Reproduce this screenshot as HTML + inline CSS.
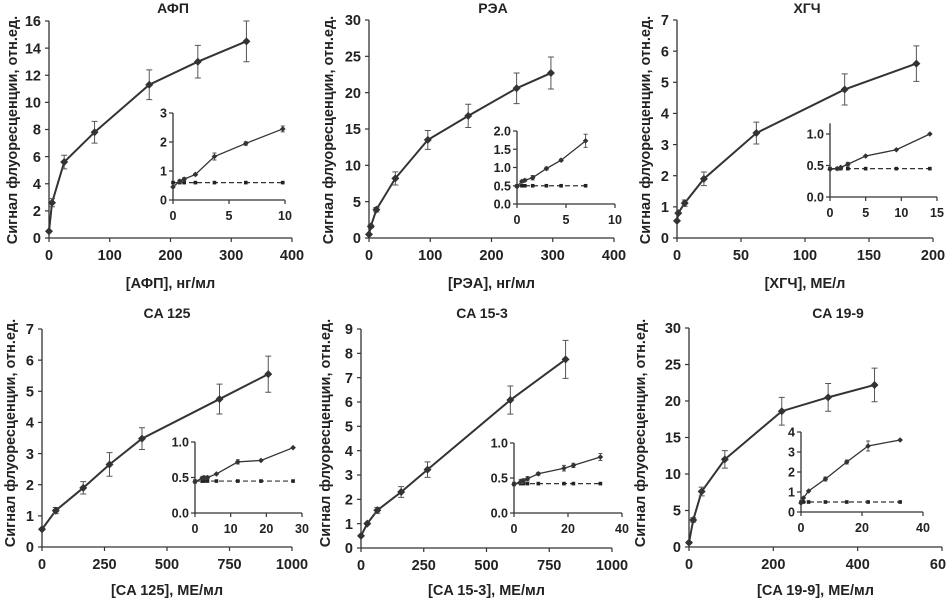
<!DOCTYPE html>
<html><head><meta charset="utf-8"><style>
html,body{margin:0;padding:0;background:#fff;}
svg{display:block;font-family:"Liberation Sans",sans-serif;font-weight:bold;}
</style></head><body>
<svg id="fig" width="946" height="599" viewBox="0 0 946 599"></svg>
<script>
// ---- data ----
const titles = ["АФП","РЭА","ХГЧ","CA 125","CA 15-3","CA 19-9"];
const xTitles = ["[АФП], нг/мл","[РЭА], нг/мл","[ХГЧ], МЕ/л","[CA 125], МЕ/мл","[CA 15-3], МЕ/мл","[CA 19-9], МЕ/мл"];
const yTitle = "Сигнал флуоресценции, отн.ед.";
const afpX = [0,5,25,75,165,245,325];
const afpY = [0.5,2.6,5.6,7.8,11.3,13.0,14.5];
const afpE = [0,0.3,0.5,0.8,1.1,1.2,1.5];
const reaX = [0,3,12,43,96,162,241,297];
const reaY = [0.5,1.6,3.9,8.2,13.5,16.8,20.6,22.7];
const reaE = [0,0.2,0.3,0.9,1.3,1.6,2.1,2.2];
const hgX = [0,1,6,21,62,131,187];
const hgY = [0.55,0.8,1.12,1.9,3.37,4.77,5.6];
const hgE = [0,0.05,0.1,0.22,0.35,0.5,0.57];
const c125X = [0,55,165,270,400,710,905];
const c125Y = [0.57,1.17,1.9,2.65,3.48,4.75,5.55];
const c125E = [0.05,0.1,0.2,0.38,0.35,0.48,0.58];
const c153X = [0,25,65,160,265,595,815];
const c153Y = [0.5,1.0,1.55,2.3,3.22,6.08,7.75];
const c153E = [0.05,0.05,0.12,0.22,0.32,0.58,0.78];
const c199X = [0,10,30,85,220,330,440];
const c199Y = [0.6,3.7,7.6,12.0,18.6,20.5,22.2];
const c199E = [0.1,0.3,0.6,1.2,1.9,1.9,2.3];
// insets
const iafpX = [0,0.6,1.0,2.0,3.7,6.5,9.8];
const iafpY = [0.45,0.65,0.72,0.88,1.5,1.95,2.45];
const iafpE = [0.03,0.05,0.05,0.04,0.12,0.06,0.1];
const iafpB = [0.6,0.6,0.6,0.6,0.6,0.6,0.6];
const ireaX = [0,0.5,0.8,1.6,3,4.5,7];
const ireaY = [0.48,0.62,0.65,0.72,0.97,1.2,1.73];
const ireaE = [0.03,0.03,0.03,0.06,0.04,0.03,0.18];
const ireaB = [0.5,0.5,0.5,0.5,0.5,0.5,0.5];
const ihgX = [0,1,1.5,2.5,5,9.3,14];
const ihgY = [0.44,0.45,0.47,0.52,0.65,0.75,1.0];
const ihgE = [0.01,0.01,0.01,0.03,0.01,0.01,0.01];
const ihgB = [0.45,0.45,0.45,0.45,0.45,0.45,0.45];
const i125X = [0,2,2.5,3.5,6,12,18.5,27.5];
const i125Y = [0.44,0.49,0.5,0.5,0.55,0.72,0.74,0.92];
const i125E = [0.02,0.02,0.02,0.02,0.01,0.03,0.01,0.01];
const i125B = [0.45,0.45,0.45,0.45,0.45,0.45,0.45,0.45];
const i153X = [0,2.5,3.5,5,9,18.5,22,32];
const i153Y = [0.41,0.45,0.46,0.49,0.56,0.64,0.68,0.8];
const i153E = [0.02,0.03,0.03,0.03,0.02,0.04,0.03,0.05];
const i153B = [0.42,0.42,0.42,0.42,0.42,0.42,0.42,0.42];
const i199X = [0,0.8,2.5,8,15,22,32.5];
const i199Y = [0.45,0.7,1.05,1.65,2.5,3.3,3.6];
const i199E = [0.05,0.05,0.05,0.1,0.1,0.25,0.05];
const i199B = [0.5,0.5,0.5,0.5,0.5,0.5,0.5];
// ticks
const mainXT = [[0,100,200,300,400],[0,100,200,300,400],[0,50,100,150,200],[0,250,500,750,1000],[0,250,500,750,1000],[0,200,400,600]];
const mainYT = [[0,2,4,6,8,10,12,14,16],[0,5,10,15,20,25,30],[0,1,2,3,4,5,6,7],[0,1,2,3,4,5,6,7],[0,1,2,3,4,5,6,7,8,9],[0,5,10,15,20,25,30]];
const insXT = [[0,5,10],[0,5,10],[0,5,10,15],[0,10,20,30],[0,20,40],[0,20,40]];
const insYT = [["0","1","2","3"],["0.0","0.5","1.0","1.5","2.0"],["0.0","0.5","1.0"],["0.0","0.5","1.0"],["0.0","0.5","1.0"],["0","1","2","3","4"]];

// ---- layout (pixel geometry) ----
const P = [
 {ax:49,ay0:238,ax1:292,ay1:21,xmax:400,ymax:16,tx:173,ty:8,yt:[12,130],xl:255,xt:283,
  in:{ax:173,ay0:200,ax1:285,ay1:113,xmax:10,ymax:3,ytop:3}},
 {ax:369,ay0:238,ax1:614,ay1:20,xmax:400,ymax:30,tx:493,ty:8,yt:[328,130],xl:255,xt:283,
  in:{ax:517,ay0:204,ax1:615,ay1:131,xmax:10,ymax:2,ytop:2}},
 {ax:677,ay0:238,ax1:933,ay1:20,xmax:200,ymax:7,tx:807,ty:8,yt:[645,130],xl:255,xt:283,
  in:{ax:830,ay0:197,ax1:937,ay1:134,xmax:15,ymax:1,ytop:1.17}},
 {ax:42,ay0:547,ax1:292,ay1:329,xmax:1000,ymax:7,tx:167,ty:313,yt:[10,433],xl:570,xt:590,
  in:{ax:195,ay0:513,ax1:302,ay1:442,xmax:30,ymax:1,ytop:1}},
 {ax:361,ay0:548,ax1:612,ay1:329,xmax:1000,ymax:9,tx:482,ty:313,yt:[325,433],xl:570,xt:590,
  in:{ax:514,ay0:513,ax1:622,ay1:443,xmax:40,ymax:1,ytop:1}},
 {ax:689,ay0:547,ax1:942,ay1:328,xmax:600,ymax:30,tx:838,ty:313,yt:[640,433],xl:570,xt:590,
  in:{ax:801,ay0:512,ax1:923,ay1:432,xmax:40,ymax:4,ytop:4}}
];
const mains = [[afpX,afpY,afpE],[reaX,reaY,reaE],[hgX,hgY,hgE],[c125X,c125Y,c125E],[c153X,c153Y,c153E],[c199X,c199Y,c199E]];
const insets = [[iafpX,iafpY,iafpE,iafpB],[ireaX,ireaY,ireaE,ireaB],[ihgX,ihgY,ihgE,ihgB],[i125X,i125Y,i125E,i125B],[i153X,i153Y,i153E,i153B],[i199X,i199Y,i199E,i199B]];

const NS="http://www.w3.org/2000/svg";
const svg=document.getElementById('fig');
function mk(tag,attrs,parent,txt){const e=document.createElementNS(NS,tag);for(const k in attrs)e.setAttribute(k,attrs[k]);if(txt!==undefined)e.textContent=txt;(parent||svg).appendChild(e);return e;}
const C="#333";

function drawAxes(g,L,xt,yt,fs,names,isInset){
  const sx=v=>L.ax+(v/L.xmax)*(L.ax1-L.ax);
  const sy=v=>L.ay0-(v/L.ymax)*(L.ay0-L.ay1);
  const topY=isInset? L.ay0-(L.ytop/L.ymax)*(L.ay0-L.ay1) : L.ay1;
  mk('line',{x1:L.ax,y1:topY,x2:L.ax,y2:L.ay0,stroke:C,'stroke-width':1.3},g);
  mk('line',{x1:L.ax,y1:L.ay0,x2:L.ax1,y2:L.ay0,stroke:C,'stroke-width':1.3},g);
  xt.forEach(v=>{const x=sx(v);
    mk('line',{x1:x,y1:L.ay0,x2:x,y2:L.ay0+4,stroke:C,'stroke-width':1.2},g);
    const t=mk('text',{x:x,y:L.ay0+(isInset?20:22),'text-anchor':'middle','font-size':fs,fill:'#222'},g,String(v));
    
    
  });
  yt.forEach((lab,i)=>{const v=parseFloat(lab);const y=sy(v);
    mk('line',{x1:L.ax-4,y1:y,x2:L.ax,y2:y,stroke:C,'stroke-width':1.2},g);
    const t=mk('text',{x:L.ax-(isInset?6:8),y:y+fs*0.36,'text-anchor':'end','font-size':fs,fill:'#222'},g,String(lab));
    
    
  });
  return [sx,sy];
}
function diamond(g,x,y,r){mk('path',{d:`M${x},${y-r}L${x+r},${y}L${x},${y+r}L${x-r},${y}Z`,fill:C},g);}

P.forEach((L,i)=>{
  const g=mk('g',{});
  
  
  const t=mk('text',{x:L.tx,y:L.ty+5,'text-anchor':'middle','font-size':14,fill:'#222'},g,titles[i]);
  
  
  const [sx,sy]=drawAxes(g,L,mainXT[i],mainYT[i].map(String),14.5,'main',false);
  const xt=mk('text',{x:(L.ax+L.ax1)/2,y:L.xt+5,'text-anchor':'middle','font-size':14.5,fill:'#222'},g,xTitles[i]);
  
  
  const yt=mk('text',{x:0,y:0,'text-anchor':'middle','font-size':14.5,fill:'#222',transform:`translate(${L.yt[0]+5},${L.yt[1]}) rotate(-90)`},g,yTitle);
  
  
  const [X,Y,E]=mains[i];
  const s=g.appendChild(document.createElementNS(NS,'g'));
  
  
  mk('polyline',{points:X.map((x,k)=>sx(x)+','+sy(Y[k])).join(' '),fill:'none',stroke:C,'stroke-width':2},s);
  X.forEach((x,k)=>{const px=sx(x);
    if(E[k]>0.05){const y1=sy(Y[k]+E[k]),y2=sy(Y[k]-E[k]);
      mk('path',{d:`M${px},${y1}V${y2}M${px-3},${y1}H${px+3}M${px-3},${y2}H${px+3}`,stroke:'#555','stroke-width':1,fill:'none'},s);}
    diamond(s,px,sy(Y[k]),4);
  });
  // inset
  const IL=L.in;
  const ig=mk('g',{},g);
  
  
  const [ix,iy]=drawAxes(ig,IL,insXT[i],insYT[i],12.5,'inset',true);
  const [A,B,Er,Bs]=insets[i];
  mk('polyline',{points:A.map((x,k)=>ix(x)+','+iy(Bs[k])).join(' '),fill:'none',stroke:C,'stroke-width':1.2,'stroke-dasharray':'5,3'},ig);
  A.forEach((x,k)=>{mk('rect',{x:ix(x)-1.8,y:iy(Bs[k])-1.8,width:3.6,height:3.6,fill:'#222'},ig);});
  mk('polyline',{points:A.map((x,k)=>ix(x)+','+iy(B[k])).join(' '),fill:'none',stroke:C,'stroke-width':1.3},ig);
  A.forEach((x,k)=>{const px=ix(x);
    const y1=iy(B[k]+Er[k]),y2=iy(B[k]-Er[k]);
    if(y2-y1>2) mk('path',{d:`M${px},${y1}V${y2}M${px-2},${y1}H${px+2}M${px-2},${y2}H${px+2}`,stroke:'#555','stroke-width':1,fill:'none'},ig);
    diamond(ig,px,iy(B[k]),2.8);
  });
});
</script>
</body></html>
